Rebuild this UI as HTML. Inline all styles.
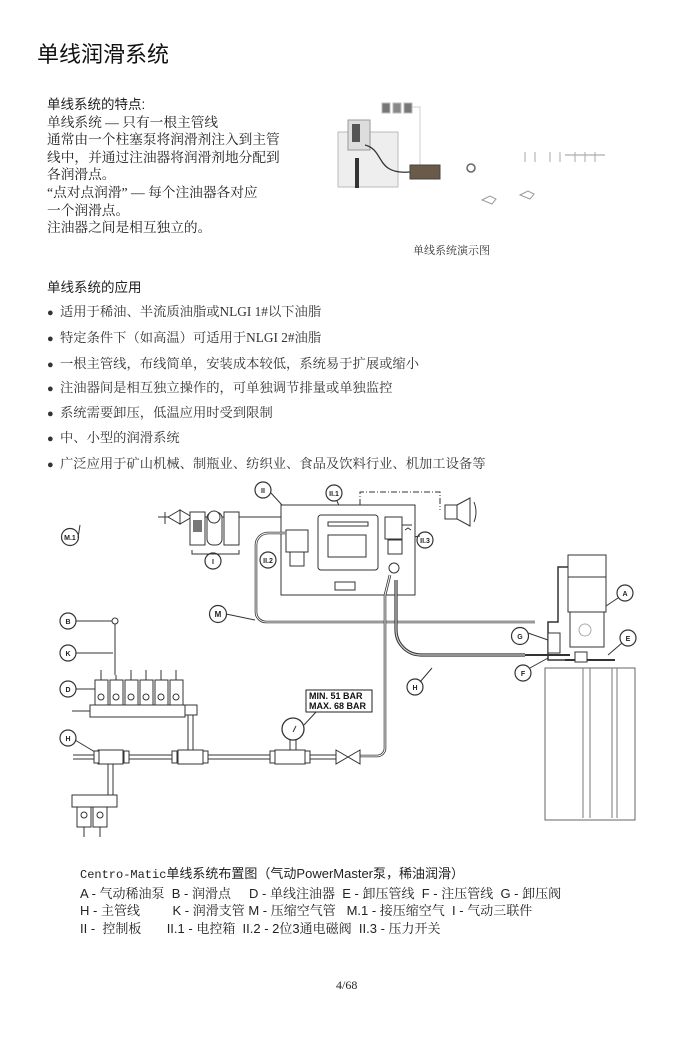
<!DOCTYPE html>
<html><head><meta charset="utf-8"><style>
body{margin:0;background:#fff;}
.p{position:relative;width:700px;height:1043px;overflow:hidden;background:#fff;color:#222;}
.t{position:absolute;white-space:nowrap;line-height:1;}
.s{font-family:"Liberation Serif","Noto Serif CJK SC",serif;}
.h{font-family:"Liberation Sans","Noto Sans CJK SC",sans-serif;}
.b{position:absolute;left:47px;white-space:nowrap;line-height:14px;font-size:13.3px;color:#333;font-family:"Liberation Serif","Noto Serif CJK SC",serif;}
.b i{font-style:normal;font-size:11px;display:inline-block;width:13px;}
svg{position:absolute;left:0;top:0;}
svg text{font-family:"Liberation Sans",sans-serif;font-weight:bold;}
</style></head><body><div class="p">
<div class="t h" style="left:37px;top:44px;font-size:22px;color:#111">单线润滑系统</div>
<div class="t s" style="left:47px;top:96px;font-size:13.7px;line-height:17.6px;white-space:normal;width:260px;color:#222">
<span class="h" style="font-size:13.5px">单线系统的特点:</span><br>单线系统 — 只有一根主管线<br>通常由一个柱塞泵将润滑剂注入到主管<br>线中，并通过注油器将润滑剂地分配到<br>各润滑点。<br>“点对点润滑” — 每个注油器各对应<br>一个润滑点。<br>注油器之间是相互独立的。</div>
<div class="t s" style="left:413px;top:246px;font-size:11px;color:#333">单线系统演示图</div>
<div class="t h" style="left:47px;top:281px;font-size:13.5px">单线系统的应用</div>
<div class="b" style="top:305px"><i>●</i>适用于稀油、半流质油脂或NLGI 1#以下油脂</div>
<div class="b" style="top:331px"><i>●</i>特定条件下（如高温）可适用于NLGI 2#油脂</div>
<div class="b" style="top:357px"><i>●</i>一根主管线，布线简单，安装成本较低，系统易于扩展或缩小</div>
<div class="b" style="top:381px"><i>●</i>注油器间是相互独立操作的，可单独调节排量或单独监控</div>
<div class="b" style="top:406px"><i>●</i>系统需要卸压，低温应用时受到限制</div>
<div class="b" style="top:431px"><i>●</i>中、小型的润滑系统</div>
<div class="b" style="top:457px"><i>●</i>广泛应用于矿山机械、制瓶业、纺织业、食品及饮料行业、机加工设备等</div>
<div class="t h" style="left:80px;top:865px;font-size:13px;line-height:17.5px;color:#222">
<span style="font-family:'Liberation Mono','Noto Sans CJK SC',monospace;font-size:12px">Centro-Matic</span>单线系统布置图（气动PowerMaster泵，稀油润滑）<br>
A - <span class="s">气动稀油泵</span>&nbsp; B - <span class="s">润滑点</span>&nbsp;&nbsp;&nbsp;&nbsp; D - <span class="s">单线注油器</span>&nbsp; E - <span class="s">卸压管线</span>&nbsp; F - <span class="s">注压管线</span>&nbsp; G - <span class="s">卸压阀</span><br>
H - <span class="s">主管线</span>&nbsp;&nbsp;&nbsp;&nbsp;&nbsp;&nbsp;&nbsp;&nbsp; K - <span class="s">润滑支管</span> M - <span class="s">压缩空气管</span>&nbsp;&nbsp; M.1 - <span class="s">接压缩空气</span>&nbsp; I - <span class="s">气动三联件</span><br>
II -&nbsp; <span class="s">控制板</span>&nbsp;&nbsp;&nbsp;&nbsp;&nbsp;&nbsp; II.1 - <span class="s">电控箱</span>&nbsp; II.2 - 2<span class="s">位</span>3<span class="s">通电磁阀</span>&nbsp; II.3 - <span class="s">压力开关</span></div>
<div class="t s" style="left:336px;top:979px;font-size:12px">4/68</div>

<svg width="700" height="1043" viewBox="0 0 700 1043" fill="none" stroke="#333" stroke-width="1">
<g stroke="#bbb">
<rect x="338" y="132" width="60" height="55" fill="#eee"/>
<rect x="348" y="120" width="22" height="30" fill="#ddd" stroke="#999"/>
<rect x="352" y="124" width="8" height="18" fill="#555" stroke="none"/>
<rect x="355" y="158" width="4" height="30" fill="#333" stroke="none"/>
<rect x="382" y="103" width="8" height="10" fill="#777"/>
<rect x="393" y="103" width="8" height="10" fill="#888"/>
<rect x="404" y="103" width="8" height="10" fill="#777"/>
<path d="M412 107H420V165" stroke="#ccc"/>
<path d="M365 145C385 150 375 175 410 172" stroke="#333" stroke-width="1.3"/>
<rect x="410" y="165" width="30" height="14" fill="#6a5a4a" stroke="#444"/>
<circle cx="471" cy="168" r="4" stroke="#666" stroke-width="1.5"/>
<path d="M482 200l8-4 6 3-4 5z M520 195l8-4 6 3-4 5z M565 155h40" stroke="#999"/>
<path d="M525 152v10M535 152v10M550 152v10M560 152v10M575 152v10M585 152v10M595 152v10" stroke="#aaa"/>
</g>
<g stroke="#333">
<g fill="#fff" stroke-width="1.2">
<circle cx="263" cy="490" r="8"/><circle cx="334" cy="493" r="8"/><circle cx="70" cy="537" r="8.5"/>
<circle cx="213" cy="561" r="8"/><circle cx="268" cy="560" r="8"/><circle cx="425" cy="540" r="8"/>
<circle cx="218" cy="614" r="8.5"/><circle cx="68" cy="621" r="8"/><circle cx="68" cy="653" r="8"/>
<circle cx="68" cy="689" r="8"/><circle cx="68" cy="738" r="8"/><circle cx="625" cy="593" r="8"/>
<circle cx="628" cy="638" r="8"/><circle cx="520" cy="636" r="8.5"/><circle cx="523" cy="673" r="8"/>
<circle cx="415" cy="687" r="8"/>
</g>
<g font-size="7" fill="#222" stroke="none" text-anchor="middle">
<text x="263" y="493">II</text><text x="334" y="496">II.1</text><text x="70" y="540">M.1</text>
<text x="213" y="564">I</text><text x="268" y="563">II.2</text><text x="425" y="543">II.3</text>
<text x="218" y="617" font-size="8">M</text><text x="68" y="624">B</text><text x="68" y="656">K</text>
<text x="68" y="692">D</text><text x="68" y="741">H</text><text x="625" y="596">A</text>
<text x="628" y="641">E</text><text x="520" y="639">G</text><text x="523" y="676">F</text><text x="415" y="690">H</text>
</g>
<path d="M271 493L282 505M337 501L345 520M78 538L80 525M420 536L400 539M226 614L255 620M76 621H113M76 653H113M76 689H95M75 740L95 752M618 598L600 610M622 643L608 655M528 633L548 640M530 668L548 658M420 682L432 668"/>
<path d="M168 517L180 510V524Z M192 517L180 510V524Z" fill="#fff"/>
<path d="M165 512v12M158 517h10M192 517h60 M248 517H305a5 5 0 0 1 5 5v12"/>
<rect x="190" y="512" width="15" height="33" fill="#fff"/><rect x="207" y="512" width="15" height="33" rx="6" fill="#fff"/><rect x="224" y="512" width="15" height="33" fill="#fff"/>
<circle cx="214" cy="517" r="6" fill="#fff"/><rect x="193" y="520" width="9" height="12" fill="#777" stroke="none"/>
<path d="M192 550v4h47v-4"/>
<rect x="281" y="505" width="134" height="90" fill="#fff"/>
<rect x="318" y="515" width="60" height="55" rx="3" fill="#fff"/>
<rect x="328" y="522" width="40" height="4"/><rect x="328" y="535" width="38" height="22"/>
<rect x="286" y="530" width="22" height="22" fill="#fff"/><rect x="290" y="552" width="14" height="14"/>
<rect x="335" y="582" width="20" height="8"/>
<rect x="385" y="517" width="17" height="22" fill="#fff"/><rect x="388" y="540" width="14" height="14" fill="#fff"/>
<circle cx="394" cy="568" r="5"/><path d="M402 525h10M405 530l3-2 3 2"/>
<path d="M360 505V492H440V510" stroke-dasharray="6 2 1 2"/>
<rect x="445" y="505" width="12" height="14" fill="#fff"/><path d="M457 505L470 498V526L457 519Z" fill="#fff"/><path d="M474 502q4 10 0 20"/>
<path d="M286 533H268a12 12 0 0 0-12 12V612a10 10 0 0 0 10 10H535" stroke-width="2.6"/>
<path d="M286 533H268a12 12 0 0 0-12 12V612a10 10 0 0 0 10 10H535" stroke="#fff" stroke-width="1"/>
<path d="M390 575L385 595V748a8 8 0 0 1-8 8H358" stroke-width="2.6"/>
<path d="M390 575L385 595V748a8 8 0 0 1-8 8H358" stroke="#fff" stroke-width="1"/>
<path d="M396 580V630a25 25 0 0 0 25 25H525" stroke-width="3.2"/>
<path d="M396 580V630a25 25 0 0 0 25 25H525" stroke="#ccc" stroke-width="1.2"/>
<path d="M336 750L348 757L336 764Z M360 750L348 757L360 764Z" fill="#fff"/>
<path d="M73 755H336M73 759H336"/>
<rect x="98" y="750" width="25" height="14" fill="#fff"/><rect x="178" y="750" width="25" height="14" fill="#fff"/><rect x="275" y="750" width="30" height="14" fill="#fff"/>
<g fill="#fff"><rect x="94" y="751" width="5" height="12"/><rect x="124" y="751" width="5" height="12"/><rect x="172" y="751" width="5" height="12"/><rect x="203" y="751" width="5" height="12"/><rect x="270" y="751" width="5" height="12"/><rect x="305" y="751" width="5" height="12"/></g>
<path d="M188 715V750M193 715V750"/><rect x="185" y="705" width="12" height="10" fill="#fff"/>
<path d="M290 740V750M296 740V750"/><circle cx="293" cy="729" r="11" fill="#fff" stroke-width="1.3"/><path d="M293 732l3-6"/>
<path d="M304 725L316 712"/>
<rect x="306" y="690" width="66" height="22" fill="#fff" stroke="#222"/>
<text x="309" y="699" font-size="9" fill="#111" stroke="none">MIN.  51 BAR</text>
<text x="309" y="709" font-size="9" fill="#111" stroke="none">MAX. 68 BAR</text>
<path d="M115 621V675"/><circle cx="115" cy="621" r="3" fill="#fff"/>
<rect x="90" y="705" width="95" height="12" fill="#fff"/><path d="M72 711H90"/>
<g fill="#fff">
<rect x="95" y="680" width="13" height="25"/><rect x="110" y="680" width="13" height="25"/><rect x="125" y="680" width="13" height="25"/><rect x="140" y="680" width="13" height="25"/><rect x="155" y="680" width="13" height="25"/><rect x="170" y="680" width="13" height="25"/>
<circle cx="101" cy="697" r="3"/><circle cx="116" cy="697" r="3"/><circle cx="131" cy="697" r="3"/><circle cx="146" cy="697" r="3"/><circle cx="161" cy="697" r="3"/><circle cx="176" cy="697" r="3"/>
</g>
<path d="M101 670v10M131 670v10M146 670v10M161 670v10M176 670v10M116 675v5"/>
<path d="M108 764V795M113 764V795"/>
<rect x="72" y="795" width="45" height="12" fill="#fff"/>
<rect x="77" y="807" width="14" height="20" fill="#fff"/><rect x="93" y="807" width="14" height="20" fill="#fff"/>
<circle cx="84" cy="815" r="3"/><circle cx="100" cy="815" r="3"/><path d="M84 827v10M100 827v10"/>
<rect x="545" y="668" width="90" height="152" fill="#fff" stroke="#666"/>
<path d="M583 668V818M590 668V818M612 668V818M617 668V818" stroke="#777"/>
<rect x="568" y="555" width="38" height="22" fill="#fff"/>
<rect x="568" y="577" width="38" height="35" fill="#fff"/>
<rect x="570" y="612" width="34" height="35" fill="#fff"/>
<circle cx="585" cy="630" r="6" stroke="#aaa"/>
<path d="M568 567H558V622H548V660H600" stroke-width="1.5"/>
<rect x="548" y="633" width="12" height="20" fill="#fff"/>
<path d="M525 655H570M565 660H615" stroke-width="2"/>
<rect x="575" y="652" width="12" height="10" fill="#fff"/>
</g>
</svg>
</div></body></html>
